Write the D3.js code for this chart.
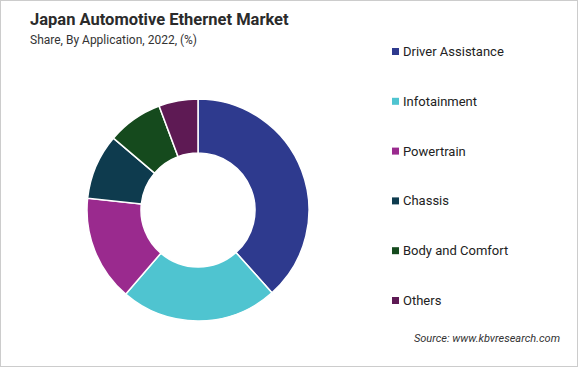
<!DOCTYPE html>
<html lang="en">
<head>
<meta charset="UTF-8">
<title>Japan Automotive Ethernet Market</title>
<script src="https://d3js.org/d3.v7.min.js"></script>
<style>
  body { margin: 0; background: #fff; }
  svg { display: block; font-family: Roboto, "Noto Sans", sans-serif; }
  .title { font-size: 16.5px; font-weight: bold; fill: #2b2b2b; }
  .subtitle { font-size: 12px; fill: #333; }
  .legend text { font-size: 13px; fill: #222; }
  .source { font-size: 11px; font-style: italic; fill: #333; }
</style>
</head>
<body>
<svg width="578" height="367"></svg>
<script>
// data
const categories = ["Driver Assistance", "Infotainment", "Powertrain", "Chassis", "Body and Comfort", "Others"];
const shares = [38.4, 22.9, 15.4, 9.5, 8.1, 5.7];
const colors = ["#2e3a8e", "#4fc4d0", "#9a2a8e", "#0e3b4e", "#154a1d", "#5e1a54"];

const svg = d3.select("svg"),
      width = +svg.attr("width"),
      height = +svg.attr("height");

svg.append("rect")
    .attr("x", 0.5).attr("y", 0.5)
    .attr("width", width - 1).attr("height", height - 1)
    .attr("fill", "none").attr("stroke", "#ccc");

svg.append("text").attr("class", "title")
    .attr("x", 30).attr("y", 25)
    .text("Japan Automotive Ethernet Market");
svg.append("text").attr("class", "subtitle")
    .attr("x", 30).attr("y", 44)
    .text("Share, By Application, 2022, (%)");

const data = categories.map((c, i) => ({ name: c, value: shares[i], color: colors[i] }));

const pie = d3.pie().value(d => d.value).sort(null);
const arc = d3.arc().innerRadius(57).outerRadius(111);

const g = svg.append("g").attr("transform", "translate(198,210)");
g.selectAll("path")
    .data(pie(data))
    .enter().append("path")
    .attr("d", arc)
    .attr("fill", d => d.data.color)
    .attr("stroke", "#fff")
    .attr("stroke-width", 1.5);

// legend
const y = d3.scalePoint().domain(categories).range([51, 300]);
const legend = svg.append("g").attr("class", "legend")
    .selectAll("g")
    .data(data)
    .enter().append("g")
    .attr("transform", d => `translate(392,${y(d.name)})`);
legend.append("rect")
    .attr("x", 0).attr("y", -3)
    .attr("width", 7).attr("height", 7)
    .attr("fill", d => d.color);
legend.append("text")
    .attr("x", 11).attr("y", 5)
    .text(d => d.name);

svg.append("text").attr("class", "source")
    .attr("x", 560).attr("y", 342)
    .attr("text-anchor", "end")
    .text("Source: www.kbvresearch.com");
</script>
</body>
</html>
